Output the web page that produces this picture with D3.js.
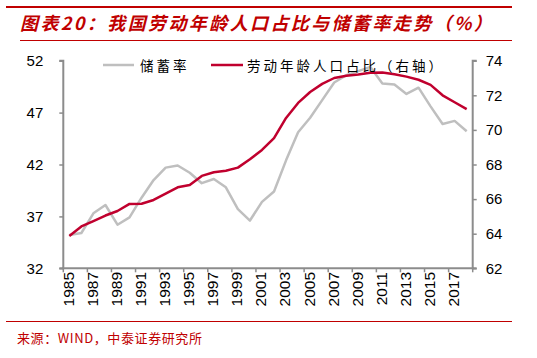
<!DOCTYPE html>
<html><head><meta charset="utf-8">
<script src="https://cdn.jsdelivr.net/npm/d3@7/dist/d3.min.js"></script>
<style>
html,body{margin:0;padding:0;background:#fff;}
svg{display:block;}
</style></head>
<body>
<svg id="c" width="537" height="358"></svg>
<script>
const years = [1985,1986,1987,1988,1989,1990,1991,1992,1993,1994,1995,1996,1997,1998,1999,2000,2001,2002,2003,2004,2005,2006,2007,2008,2009,2010,2011,2012,2013,2014,2015,2016,2017,2018];
const savingRate = [35.2,35.4,37.3,38.1,36.2,36.9,38.8,40.5,41.7,41.9,41.2,40.2,40.6,39.8,37.7,36.6,38.4,39.4,42.4,45.1,46.5,48.2,49.9,50.6,51.0,51.4,49.8,49.7,48.8,49.4,47.6,45.9,46.2,45.2];
const laborShare = [63.87,64.42,64.73,65.05,65.31,65.72,65.73,65.95,66.32,66.68,66.81,67.34,67.55,67.64,67.82,68.3,68.84,69.53,70.69,71.56,72.19,72.66,73.0,73.13,73.2,73.3,73.32,73.22,73.08,72.9,72.6,72.0,71.6,71.2];
const leftTicks = [32,37,42,47,52];
const rightTicks = [62,64,66,68,70,72,74];
const xLabelYears = years.filter((d,i)=>i%2===0);
const seriesNames = ["储蓄率","劳动年龄人口占比（右轴）"];
const titleText = "图表20：我国劳动年龄人口占比与储蓄率走势（%）";
const sourceText = "来源：WIND，中泰证券研究所";

const svg = d3.select("#c");
const L = 63.3, R = 472.7, T = 60.7, B = 268.3;
const red = "#C00000";
const axisColor = "#8C8C8C";

// header lines & title
svg.append("line").attr("x1",6).attr("x2",512).attr("y1",7).attr("y2",7).attr("stroke",red).attr("stroke-width",2);
svg.append("line").attr("x1",20).attr("x2",512).attr("y1",40.5).attr("y2",40.5).attr("stroke",red).attr("stroke-width",1);
svg.append("text").attr("x",20).attr("y",30).attr("fill",red)
  .attr("font-family","'Noto Sans CJK SC'").attr("font-weight","bold").attr("font-style","italic")
  .attr("font-size","18px").attr("letter-spacing","2.4px").text(titleText);

// footer
svg.append("line").attr("x1",6).attr("x2",512).attr("y1",321.5).attr("y2",321.5).attr("stroke",red).attr("stroke-width",1);
svg.append("text").attr("x",17).attr("y",343).attr("fill",red)
  .attr("font-family","'Noto Sans CJK SC'").attr("font-size","13px").attr("letter-spacing","0.6px").text(sourceText);

const x = d3.scaleBand().domain(years).range([L,R]).paddingInner(0).paddingOuter(0);
const yL = d3.scaleLinear().domain([32,52]).range([B,T]);
const yR = d3.scaleLinear().domain([62,74]).range([B,T]);
const cx = d => x(d) + x.bandwidth()/2;

// left axis
const gL = svg.append("g").attr("transform",`translate(${L},0)`)
  .call(d3.axisLeft(yL).tickValues(leftTicks).tickSize(4).tickPadding(16).tickFormat(d3.format("d")));
// right axis
const gR = svg.append("g").attr("transform",`translate(${R},0)`)
  .call(d3.axisRight(yR).tickValues(rightTicks).tickSize(4).tickPadding(9).tickFormat(d3.format("d")));
[gL,gR].forEach(g=>{
  g.select(".domain").attr("stroke",axisColor).attr("stroke-width",2).attr("d", g===gL ? `M-4,${B}H0V${T}H-4` : `M4,${B}H0V${T}H4`);
  g.selectAll(".tick line").attr("stroke",axisColor).attr("stroke-width",1.5);
  g.selectAll(".tick text").attr("fill","#000").attr("font-family","'Liberation Sans', Arial, sans-serif").attr("font-size","15px");
});

// bottom axis
const gB = svg.append("g");
gB.append("line").attr("x1",L-1).attr("x2",R+1).attr("y1",B).attr("y2",B).attr("stroke",axisColor).attr("stroke-width",2);
const tickPos = xLabelYears.map(d=>x(d)).concat([x(years[years.length-1])+x.bandwidth()]);
gB.selectAll("line.tk").data(tickPos).join("line").attr("class","tk")
  .attr("x1",d=>d).attr("x2",d=>d).attr("y1",B).attr("y2",B+4).attr("stroke",axisColor).attr("stroke-width",1.5);
gB.selectAll("text").data(xLabelYears).join("text")
  .attr("transform",d=>`translate(${cx(d)-1},272) rotate(-90)`)
  .attr("text-anchor","end").attr("dy","0.35em")
  .attr("font-family","'Liberation Sans', Arial, sans-serif").attr("font-size","15.5px").attr("fill","#000")
  .text(d=>d);

// lines
const lineL = d3.line().x((d,i)=>cx(years[i])).y(d=>yL(d));
const lineR = d3.line().x((d,i)=>cx(years[i])).y(d=>yR(d));
svg.append("path").datum(savingRate).attr("d",lineL).attr("fill","none").attr("stroke","#BFBFBF").attr("stroke-width",2.5).attr("stroke-linejoin","round");
svg.append("path").datum(laborShare).attr("d",lineR).attr("fill","none").attr("stroke","#C0002E").attr("stroke-width",2.5).attr("stroke-linejoin","round");

// legend
const lg = svg.append("g");
const legendItems = [
  {name:seriesNames[0], color:"#BFBFBF", x1:103, x2:134, tx:140},
  {name:seriesNames[1], color:"#C0002E", x1:211, x2:243, tx:247}
];
legendItems.forEach(it=>{
  lg.append("line").attr("x1",it.x1).attr("x2",it.x2).attr("y1",65).attr("y2",65).attr("stroke",it.color).attr("stroke-width",2.5);
  lg.append("text").attr("x",it.tx).attr("y",70.5).attr("fill","#000")
    .attr("font-family","'Noto Sans CJK SC'").attr("font-size","13.5px").attr("letter-spacing","3px").text(it.name);
});
</script>
</body></html>
